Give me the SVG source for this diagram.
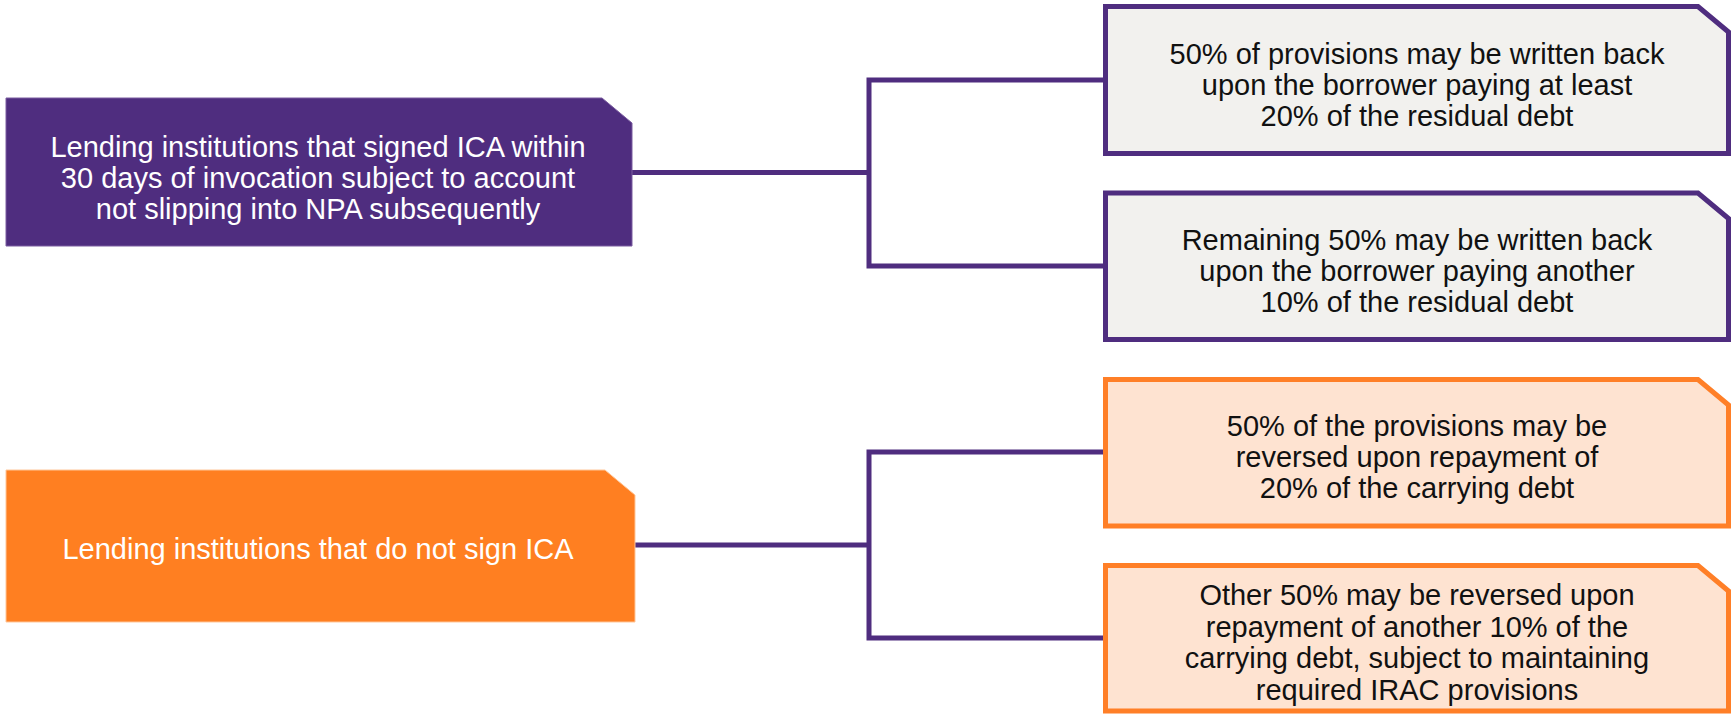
<svg xmlns="http://www.w3.org/2000/svg" width="1733" height="715" viewBox="0 0 1733 715">
<style>
  .t { font-family: "Liberation Sans", Arial, sans-serif; font-size: 29px; text-anchor: middle; }
  .w { fill: #ffffff; }
  .k { fill: #111111; }
  .conn { fill: none; stroke: #4F2D7F; stroke-width: 5; stroke-linejoin: miter; }
  .srcP { fill: #4F2D7F; stroke: #7A5CA0; stroke-width: 1; }
  .srcO { fill: #FF7F21; stroke: #FFC79A; stroke-width: 1; }
  .boxP { fill: #F2F1EE; stroke: #4F2D7F; stroke-width: 5; }
  .boxO { fill: #FEE3D1; stroke: #FF7F27; stroke-width: 5; }
</style>
<rect width="1733" height="715" fill="#ffffff"/>
<g id="connectors">
  <path class="conn" d="M632 172.5 H869 M1105 80 H869 V266 H1105"/>
  <path class="conn" d="M635 545 H869 M1105 452 H869 V638 H1105"/>
</g>
<g id="node-signed">
  <path class="srcP" d="M6 98 H602 L632 123 V246 H6 Z"/>
  <text class="t w" x="318" y="157">Lending institutions that signed ICA within</text>
  <text class="t w" x="318" y="188">30 days of invocation subject to account</text>
  <text class="t w" x="318" y="219">not slipping into NPA subsequently</text>
</g>
<g id="node-notsigned">
  <path class="srcO" d="M6 470 H605 L635 495 V622 H6 Z"/>
  <text class="t w" x="318" y="559">Lending institutions that do not sign ICA</text>
</g>
<g id="node-p1">
  <path class="boxP" d="M1105.5 6.5 H1698 L1728.5 32 V153.5 H1105.5 Z"/>
  <text class="t k" x="1417" y="64">50% of provisions may be written back</text>
  <text class="t k" x="1417" y="95">upon the borrower paying at least</text>
  <text class="t k" x="1417" y="126">20% of the residual debt</text>
</g>
<g id="node-p2">
  <path class="boxP" d="M1105.5 193 H1698 L1728.5 218.5 V339.5 H1105.5 Z"/>
  <text class="t k" x="1417" y="250">Remaining 50% may be written back</text>
  <text class="t k" x="1417" y="281">upon the borrower paying another</text>
  <text class="t k" x="1417" y="312">10% of the residual debt</text>
</g>
<g id="node-o1">
  <path class="boxO" d="M1105.5 379.5 H1698 L1728.5 405 V526 H1105.5 Z"/>
  <text class="t k" x="1417" y="436">50% of the provisions may be</text>
  <text class="t k" x="1417" y="467">reversed upon repayment of</text>
  <text class="t k" x="1417" y="498">20% of the carrying debt</text>
</g>
<g id="node-o2">
  <path class="boxO" d="M1105.5 565.5 H1698 L1728.5 591 V711 H1105.5 Z"/>
  <text class="t k" x="1417" y="605">Other 50% may be reversed upon</text>
  <text class="t k" x="1417" y="637">repayment of another 10% of the</text>
  <text class="t k" x="1417" y="668">carrying debt, subject to maintaining</text>
  <text class="t k" x="1417" y="700">required IRAC provisions</text>
</g>
</svg>
